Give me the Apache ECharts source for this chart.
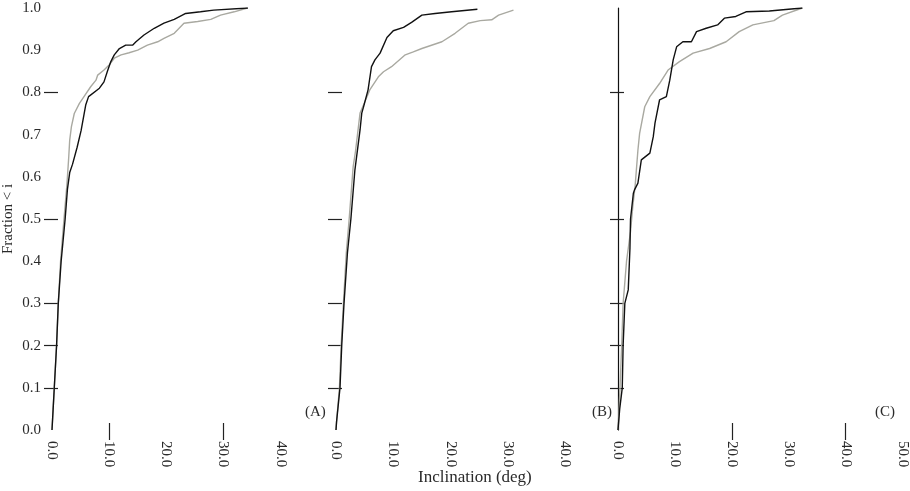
<!DOCTYPE html>
<html>
<head>
<meta charset="utf-8">
<script src="https://cdn.jsdelivr.net/npm/echarts@6/dist/echarts.min.js"></script>
<style>html,body{margin:0;padding:0;background:#fff}#c{width:910px;height:491px}</style>
</head>
<body>
<div id="c"></div>
<script>
// ---- data (inclination in deg, cumulative fraction) ----
const panelALabel = '(A)', panelBLabel = '(B)', panelCLabel = '(C)';
const yTickValues = [0.1, 0.2, 0.3, 0.5, 0.8];
const xTicksA = [10, 30];
const xTicksB = [];
const xTicksC = [20, 40];
const xMaxA = 40, xMaxB = 40, xMaxC = 50;

const blackA = [[0,0],[0.2,0.05],[0.4,0.1],[0.8,0.2],[1.1,0.3],[1.6,0.4],[2.3,0.5],[2.7,0.57],[3.1,0.61],[3.6,0.63],[4.4,0.67],[5.1,0.71],[5.9,0.77],[6.4,0.79],[8.3,0.81],[9.1,0.825],[9.7,0.85],[10.3,0.873],[10.9,0.889],[11.8,0.904],[12.9,0.912],[14.1,0.912],[14.7,0.92],[16.1,0.936],[17.9,0.952],[19.6,0.964],[21.4,0.973],[23.4,0.987],[26.0,0.991],[28.3,0.995],[34.3,1.0]];
const grayA = [[0,0],[0.2,0.05],[0.4,0.1],[0.8,0.2],[1.1,0.3],[1.5,0.4],[2.1,0.5],[2.6,0.58],[2.9,0.64],[3.1,0.687],[3.4,0.719],[3.9,0.75],[4.8,0.774],[5.6,0.79],[6.8,0.814],[7.7,0.829],[8.0,0.841],[9.1,0.853],[10.0,0.865],[10.9,0.881],[12.1,0.889],[13.5,0.894],[15.0,0.9],[16.7,0.912],[18.5,0.92],[19.6,0.928],[21.4,0.94],[23.1,0.964],[25.5,0.968],[27.8,0.973],[29.5,0.983],[31.9,0.991],[34.2,1.0]];

const blackB = [[0,0],[0.1,0.02],[0.7,0.1],[1.0,0.2],[1.4,0.3],[2.0,0.42],[2.6,0.5],[3.3,0.616],[4.2,0.711],[4.5,0.751],[4.8,0.765],[5.6,0.806],[6.2,0.861],[6.8,0.877],[7.7,0.893],[8.9,0.93],[10.0,0.946],[11.8,0.954],[13.2,0.966],[15.0,0.983],[17.3,0.987],[20.2,0.991],[24.7,0.997]];
const grayB = [[0,0],[0.1,0.02],[0.6,0.1],[0.9,0.2],[1.3,0.3],[1.8,0.42],[2.3,0.5],[3.0,0.624],[3.4,0.66],[4.2,0.751],[4.8,0.77],[5.9,0.806],[7.4,0.837],[8.3,0.849],[9.7,0.861],[10.0,0.865],[12.1,0.889],[13.5,0.896],[15.0,0.904],[18.5,0.92],[20.8,0.94],[23.1,0.964],[25.2,0.97],[27.2,0.972],[28.4,0.983],[31.0,0.995]];

const blackC = [[0,0],[0.3,0.05],[0.75,0.1],[0.9,0.2],[1.2,0.3],[1.8,0.332],[2.1,0.43],[2.2,0.5],[2.7,0.561],[2.9,0.569],[3.5,0.585],[4.1,0.64],[5.6,0.656],[6.2,0.695],[6.5,0.727],[7.3,0.782],[8.5,0.79],[9.1,0.829],[9.7,0.877],[10.3,0.908],[11.4,0.92],[12.9,0.92],[13.8,0.944],[15.5,0.952],[17.5,0.96],[18.7,0.976],[20.7,0.98],[22.5,0.991],[26.6,0.993],[32.4,1.0]];
const grayC = [[0,0],[0.2,0.05],[0.35,0.1],[0.65,0.2],[0.9,0.3],[1.5,0.4],[2.2,0.47],[2.6,0.53],[3.0,0.577],[3.5,0.663],[3.8,0.703],[4.7,0.766],[5.6,0.79],[7.3,0.821],[8.8,0.853],[10.8,0.873],[13.2,0.893],[16.1,0.904],[19.0,0.92],[21.3,0.944],[23.7,0.96],[27.4,0.97],[28.9,0.983],[32.4,1.0]];

// ---- chart ----
const FONT = 'Liberation Serif';
const TXT = '#2a2a2a';
const panels = [
  {left: 51.5, width: 229, xMax: xMaxA, xTicks: xTicksA, black: blackA, gray: grayA, yLabels: true, yLine: false},
  {left: 336, width: 229, xMax: xMaxB, xTicks: xTicksB, black: blackB, gray: grayB, yLabels: false, yLine: false},
  {left: 618, width: 285, xMax: xMaxC, xTicks: xTicksC, black: blackC, gray: grayC, yLabels: false, yLine: true}
];
const grid = [], xAxis = [], yAxis = [], series = [];
panels.forEach((p, i) => {
  grid.push({left: p.left, width: p.width, top: 8, height: 422});
  const xi = xAxis.length, yi = yAxis.length;
  xAxis.push({type: 'value', gridIndex: i, min: 0, max: p.xMax, interval: 10, position: 'bottom',
    axisLine: {show: false}, splitLine: {show: false},
    axisTick: {show: true, length: 10, customValues: p.xTicks, lineStyle: {color: '#222', width: 1.2}},
    axisLabel: {show: true, rotate: -90, margin: 11, color: TXT, fontFamily: FONT, fontSize: 15,
      formatter: v => v.toFixed(1)}});
  xAxis.push({type: 'value', gridIndex: i, min: 0, max: p.xMax, interval: 10, position: 'bottom',
    axisLine: {show: false}, splitLine: {show: false}, axisLabel: {show: false},
    axisTick: {show: true, inside: true, length: 7, customValues: p.xTicks, lineStyle: {color: '#222', width: 1.2}}});
  yAxis.push({type: 'value', gridIndex: i, min: 0, max: 1, interval: 0.1, position: 'left',
    axisLine: {show: p.yLine, lineStyle: {color: '#111', width: 1.2}}, splitLine: {show: false},
    axisTick: {show: true, length: 8, customValues: yTickValues, lineStyle: {color: '#222', width: 1.2}},
    axisLabel: {show: p.yLabels, margin: 11, color: TXT, fontFamily: FONT, fontSize: 15,
      formatter: v => v.toFixed(1)},
    name: p.yLabels ? 'Fraction < i' : '', nameLocation: 'middle', nameGap: 36, nameRotate: 90,
    nameTextStyle: {color: TXT, fontFamily: FONT, fontSize: 15}});
  yAxis.push({type: 'value', gridIndex: i, min: 0, max: 1, interval: 0.1, position: 'left',
    axisLine: {show: false}, splitLine: {show: false}, axisLabel: {show: false},
    axisTick: {show: true, inside: true, length: 6, customValues: yTickValues, lineStyle: {color: '#222', width: 1.2}}});
  series.push({type: 'line', xAxisIndex: xi, yAxisIndex: yi, data: p.gray, showSymbol: false, smooth: false,
    lineStyle: {color: '#a9a9a1', width: 1.4}, z: 2, silent: true});
  series.push({type: 'line', xAxisIndex: xi, yAxisIndex: yi, data: p.black, showSymbol: false, smooth: false,
    lineStyle: {color: '#111', width: 1.4}, z: 3, silent: true});
});

const chart = echarts.init(document.getElementById('c'), null, {renderer: 'canvas'});
chart.setOption({
  backgroundColor: '#fff',
  animation: false,
  grid, xAxis, yAxis, series,
  graphic: [
    {type: 'text', left: 305, top: 405, style: {text: panelALabel, font: '15px ' + FONT, fill: TXT}},
    {type: 'text', left: 592, top: 405, style: {text: panelBLabel, font: '15px ' + FONT, fill: TXT}},
    {type: 'text', left: 875, top: 405, style: {text: panelCLabel, font: '15px ' + FONT, fill: TXT}},
    {type: 'text', left: 418, top: 469, style: {text: 'Inclination (deg)', font: '17px ' + FONT, fill: TXT}}
  ]
});
</script>
</body>
</html>
